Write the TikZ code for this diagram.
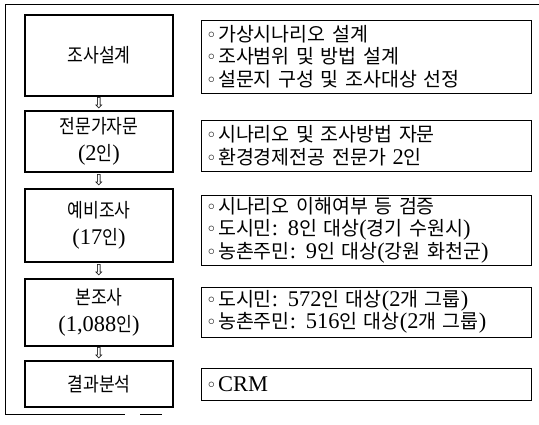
\documentclass[tikz,border=0pt]{standalone}
\usepackage{fontspec}
\setmainfont{Noto Sans CJK KR}[FakeStretch=0.88, WordSpace=1.8]
\newfontfamily\rtf{Noto Sans CJK KR}[WordSpace=1.8]
\newfontfamily\latf{Liberation Serif}[Scale=1.15, WordSpace=1.6]
\newfontfamily\dvf{DejaVu Sans}
\usetikzlibrary{calc}
\newcommand{\lt}[1]{{\latf #1}}
\newcommand{\bul}{{\dvf\fontsize{18}{18}\selectfont ◦}\hspace{1.5pt}}
\tikzset{
  lbox/.style={draw, line width=2.2pt, minimum width=148pt, align=center, inner sep=0pt,
    font=\fontsize{19.5}{27}\selectfont},
  rbox/.style={draw, line width=1pt, text width=320pt, inner xsep=5pt, inner ysep=0pt,
    align=left, font=\rtf\fontsize{19.5}{22.5}\selectfont},
  darr/.style={font=\dvf\fontsize{15}{15}\selectfont, inner sep=0pt},
  frame/.style={line width=0.8pt}
}
\begin{document}
\begin{tikzpicture}[x=1pt,y=-1pt]
\useasboundingbox (0,0) rectangle (539,424);
\draw[frame] (539,4) -- (5,4) -- (5,414) -- (125,414);
\draw[frame] (140,414) -- (162,414);
% left column
\node[lbox, minimum height=81pt] (b1) at (99,55.5) {조사설계};
\node[lbox, minimum height=61pt] (b2) at (99,141.5) {전문가자문\\\lt{(2}인\lt{)}};
\node[lbox, minimum height=73pt] (b3) at (99,225.5) {예비조사\\\lt{(17}인\lt{)}};
\node[lbox, minimum height=67pt] (b4) at (99,312.5) {본조사\\\lt{(1,088}인\lt{)}};
\node[lbox, minimum height=46pt] (b5) at (99,384) {결과분석};
% arrows
\node[darr] (a1) at ($(b1.south)!0.5!(b2.north)$) {⇩};
\node[darr] (a2) at ($(b2.south)!0.5!(b3.north)$) {⇩};
\node[darr] (a3) at ($(b3.south)!0.5!(b4.north)$) {⇩};
\node[darr] (a4) at ($(b4.south)!0.5!(b5.north)$) {⇩};
% right column
\node[rbox, minimum height=73pt] (r1) at (366,56.5) {\bul 가상시나리오 설계\\\bul 조사범위 및 방법 설계\\\bul 설문지 구성 및 조사대상 선정};
\node[rbox, minimum height=51pt] (r2) at (366,145.5) {\bul 시나리오 및 조사방법 자문\\\bul 환경경제전공 전문가 \lt{2}인};
\node[rbox, minimum height=70pt] (r3) at (366,230) {\bul 시나리오 이해여부 등 검증\\\bul 도시민\lt{: 8}인 대상\lt{(}경기 수원시\lt{)}\\\bul 농촌주민\lt{: 9}인 대상\lt{(}강원 화천군\lt{)}};
\node[rbox, minimum height=50pt] (r4) at (366,312) {\bul 도시민\lt{: 572}인 대상\lt{(2}개 그룹\lt{)}\\\bul 농촌주민\lt{: 516}인 대상\lt{(2}개 그룹\lt{)}};
\node[rbox, minimum height=32pt] (r5) at (366,384) {\bul \lt{CRM}};
\end{tikzpicture}
\end{document}
